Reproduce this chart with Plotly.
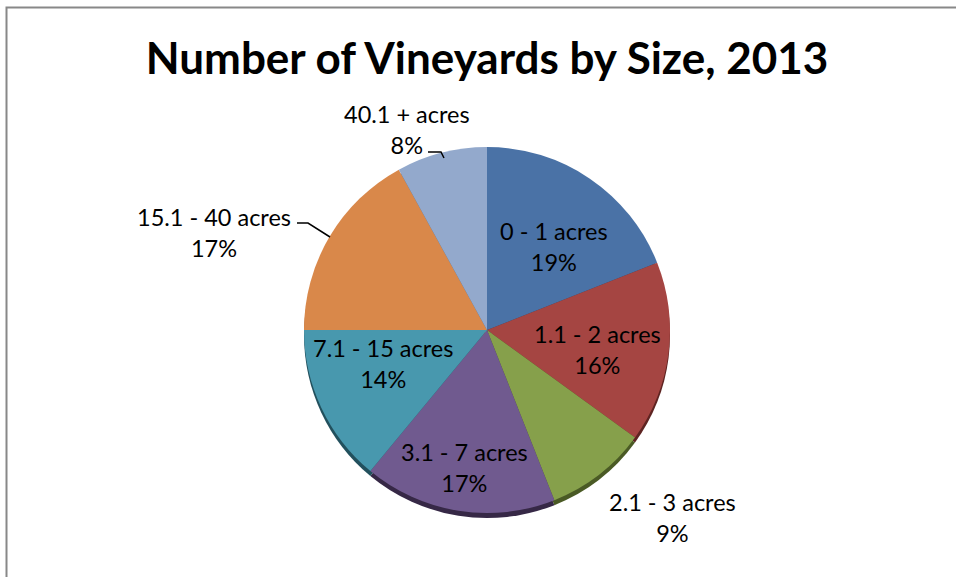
import plotly.graph_objects as go

# ---- data ----
categories = ["0 - 1 acres", "1.1 - 2 acres", "2.1 - 3 acres", "3.1 - 7 acres",
              "7.1 - 15 acres", "15.1 - 40 acres", "40.1 + acres"]
shares = [19, 16, 9, 17, 14, 17, 8]

# ---- styles / layout positions ----
colors = ["#4A72A6", "#A54542", "#86A04B", "#705A8F", "#4898AE", "#D9884A", "#93A9CC"]
rim_colors = ["#2C4566", "#5E2422", "#4A5A25", "#362846", "#22505D", "#7A4520", "#55657E"]
W, H = 956, 577
CX, CY, R = 487, 330, 183          # pie centre / radius in pixels
# label block centres in pixels (x, y from top)
label_px = [(554, 247), (597, 349), (672, 517), (464, 467), (383, 363), (214, 233), (407, 129)]
leaders = [None, None, None, None, None,
           [(297, 223), (308, 223), (330, 237)],
           [(428, 152), (441, 152), (444, 158)]]
FONT = "Lato"


def px_domain(cx, cy, r):
    return dict(x=[(cx - r) / W, (cx + r) / W],
                y=[(H - cy - r) / H, (H - cy + r) / H])


fig = go.Figure()
# darker rim, shifted down, to mimic the 3-D edge
fig.add_trace(go.Pie(
    labels=categories, values=shares, sort=False, direction="clockwise", rotation=0,
    marker=dict(colors=rim_colors, line=dict(width=0)),
    textinfo="none", hoverinfo="skip", showlegend=False,
    domain=px_domain(CX, CY + 5, R),
))
fig.add_trace(go.Pie(
    labels=categories, values=shares, sort=False, direction="clockwise", rotation=0,
    marker=dict(colors=colors, line=dict(width=0)),
    textinfo="none", hoverinfo="label+percent", showlegend=False,
    domain=px_domain(CX, CY, R),
))

total = sum(shares)
annotations = []
for cat, val, (lx, ly) in zip(categories, shares, label_px):
    annotations.append(dict(
        text=f"{cat}<br>{round(100 * val / total)}%",
        x=lx / W, y=1 - ly / H, xref="paper", yref="paper",
        xanchor="center", yanchor="middle", showarrow=False, align="center",
        font=dict(family=FONT, size=23.5, color="black"),
    ))

shapes = [dict(type="rect", xref="paper", yref="paper",
               x0=6.5 / W, x1=1.05, y0=-0.05, y1=1 - 7.5 / H,
               line=dict(color="#888888", width=2), fillcolor="rgba(0,0,0,0)")]
for pts in leaders:
    if pts:
        path = "M " + " L ".join(f"{x / W},{1 - y / H}" for x, y in pts)
        shapes.append(dict(type="path", xref="paper", yref="paper", path=path,
                           line=dict(color="black", width=1.5)))

fig.update_layout(
    width=W, height=H,
    margin=dict(l=0, r=0, t=0, b=0),
    paper_bgcolor="white",
    title=dict(text="<b>Number of Vineyards by Size, 2013</b>",
               font=dict(family=FONT, size=44, color="black"),
               x=487 / W, xanchor="center", y=1 - 59 / H, yanchor="middle"),
    annotations=annotations,
    shapes=shapes,
)

fig.write_html("out.html", config={"displayModeBar": False},
               post_script="document.body.style.margin='0';")
